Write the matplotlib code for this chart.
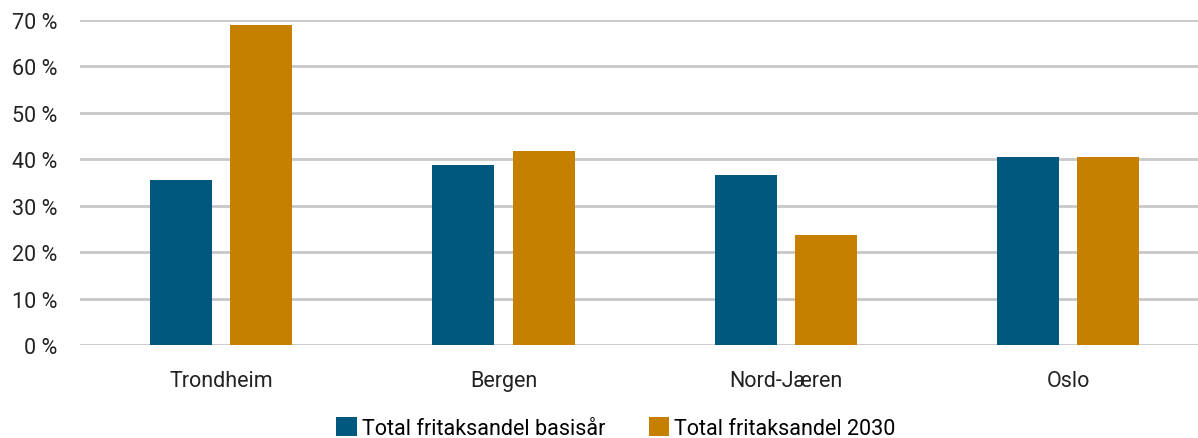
import matplotlib.pyplot as plt
import numpy as np

categories = ["Trondheim", "Bergen", "Nord-Jæren", "Oslo"]
basis = [35.5, 38.8, 36.7, 40.5]
year_2030 = [69.0, 41.7, 23.6, 40.5]
series_labels = ["Total fritaksandel basisår", "Total fritaksandel 2030"]
yticks = [0, 10, 20, 30, 40, 50, 60, 70]

blue = "#00587F"
orange = "#C68000"

plt.rcParams['font.family'] = ['Roboto', 'DejaVu Sans']

fig = plt.figure(figsize=(11.98, 4.39), dpi=100)
ax = fig.add_axes([80 / 1198, 1 - 346 / 439, 1118 / 1198, 325 / 439])

x = np.arange(len(categories))
w = 0.22
off = 0.142
ax.bar(x - off, basis, width=w, color=blue, label=series_labels[0], zorder=3)
ax.bar(x + off, year_2030, width=w, color=orange, label=series_labels[1], zorder=3)

ax.set_ylim(0, 70)
ax.set_xlim(-0.5, 3.46)
ax.set_yticks(yticks)
ax.set_yticklabels([f"{t} %" for t in yticks], fontsize=15.5, color="#222222")
ax.set_xticks(x)
ax.set_xticklabels(categories, fontsize=15.5, color="#222222")
ax.tick_params(axis='both', length=0)
ax.tick_params(axis='y', pad=16.5)
ax.tick_params(axis='x', pad=18)
ax.yaxis.grid(True, color="#C8C8C8", linewidth=2, zorder=0)
for s in ax.spines.values():
    s.set_visible(False)

fig.legend(loc="center", bbox_to_anchor=(616 / 1198, 1 - 429 / 439), ncol=2,
           frameon=False, fontsize=15.5, handlelength=0.95, handleheight=0.95,
           handletextpad=0.25, columnspacing=2.0, borderaxespad=0, borderpad=0)

fig.savefig("out.png", dpi=100)
